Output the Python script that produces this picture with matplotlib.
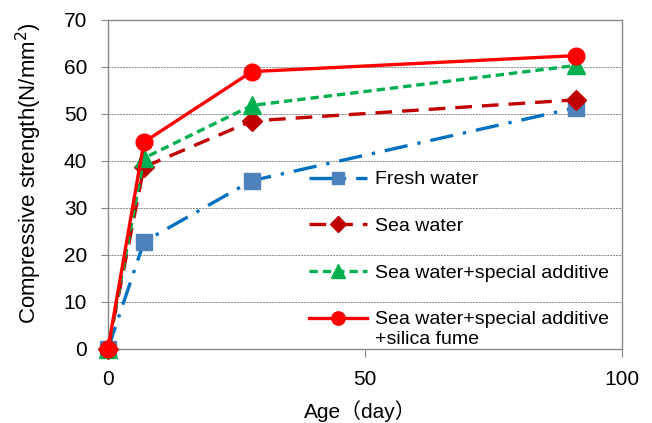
import matplotlib
matplotlib.use("Agg")
import matplotlib.pyplot as plt

plt.rcParams['font.family'] = ['Liberation Sans', 'Noto Sans CJK JP', 'DejaVu Sans']

age_days = [0, 7, 28, 91]
fresh_water = [0, 22.8, 35.8, 51.3]
sea_water = [0, 38.7, 48.5, 53.0]
sea_additive = [0, 40.6, 51.8, 60.3]
sea_additive_silica = [0, 44.0, 59.0, 62.4]

series_labels = ["Fresh water", "Sea water", "Sea water+special additive",
                 "Sea water+special additive\n+silica fume"]

x_ticks = [0, 50, 100]
y_ticks = [0, 10, 20, 30, 40, 50, 60, 70]

fig = plt.figure(figsize=(6.52, 4.23), dpi=100)
ax = fig.add_axes([0.1656, 0.175, 0.7884, 0.778])

ax.plot(age_days, fresh_water, color="#0070C0", lw=2.4, dashes=(7, 3, 1, 3),
        marker="s", ms=11, mfc="#4F81BD", mec="#4F81BD", label=series_labels[0],
        zorder=3, clip_on=False)
ax.plot(age_days, sea_water, color="#C00000", lw=2.4, dashes=(5, 3),
        marker="D", ms=10, mfc="#C00000", mec="#C00000", label=series_labels[1],
        zorder=4, clip_on=False)
ax.plot(age_days, sea_additive, color="#00B050", lw=2.4, dashes=(2.5, 1.5),
        marker="^", ms=12.5, mfc="#00B050", mec="#00B050", label=series_labels[2],
        zorder=5, clip_on=False)
ax.plot(age_days, sea_additive_silica, color="#FF0000", lw=2.4, ls="-",
        marker="o", ms=12, mfc="#FF0000", mec="#FF0000", label=series_labels[3],
        zorder=6, clip_on=False)

ax.set_xlim(0, 100)
ax.set_ylim(0, 70)
ax.set_xticks(x_ticks)
ax.set_yticks(y_ticks)
ax.tick_params(axis="both", labelsize=15, direction="out", colors="#888888",
               labelcolor="#000000")
ax.tick_params(axis="x", length=6, pad=9)
ax.tick_params(axis="y", length=5, pad=10)
ax.grid(axis="y", color="#888888", ls=(0, (2, 1)), lw=0.7)
ax.set_axisbelow(True)
for s in ax.spines.values():
    s.set_color("#888888")
    s.set_linewidth(1.0)

ax.set_xlabel("Age（day）", fontsize=15)
ax.set_ylabel("Compressive strength(N/mm$^2$)", fontsize=16)
ax.xaxis.set_label_coords(0.49, -0.155)
ax.yaxis.set_label_coords(-0.125, 0.533)

leg = ax.legend(loc="upper left", bbox_to_anchor=(0.375, 0.565), frameon=False,
                fontsize=14, handlelength=3.0, labelspacing=1.5, handletextpad=0.4,
                markerscale=0.8, borderaxespad=0)

# keep the handle of the two-line entry level with its first line
rows = leg._legend_handle_box.get_children()[0].get_children()
rows[-1].align = "top"

fig.savefig("out.png", dpi=100)
